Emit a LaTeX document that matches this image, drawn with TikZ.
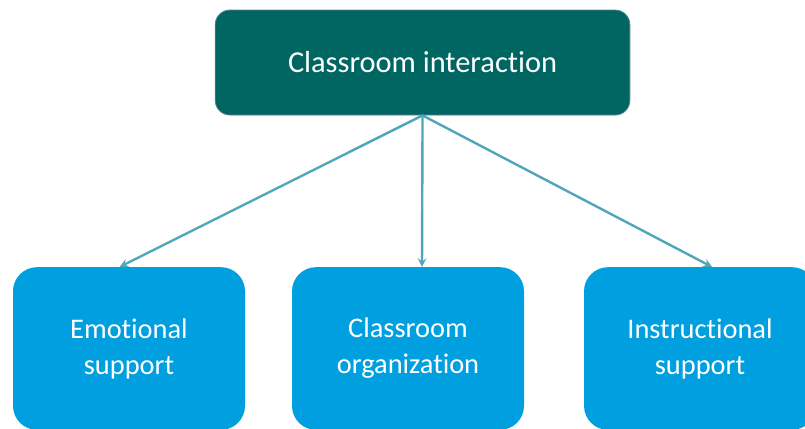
\documentclass[tikz,border=0pt]{standalone}
\usepackage{fontspec}
\setmainfont{Carlito}[Ligatures=NoCommon]
\usepackage{tikz}
\usetikzlibrary{shapes,arrows}
\definecolor{topteal}{HTML}{006661}
\definecolor{topedge}{HTML}{5A7F9A}
\definecolor{subblue}{HTML}{009FDF}
\definecolor{linkblue}{HTML}{4FA6BA}

\begin{document}
\begin{tikzpicture}[x=1pt,y=1pt,
  mainbox/.style={rectangle,rounded corners=11pt,fill=topteal,draw=topedge,line width=0.6pt,
    minimum width=311pt,minimum height=78.75pt,text=white,font=\fontsize{22.8}{26}\selectfont},
  subbox/.style={rectangle,rounded corners=18pt,fill=subblue,minimum width=174pt,
    minimum height=122pt,text=white,align=center,font=\fontsize{21.3}{27}\selectfont},
  link/.style={linkblue,line width=1.8pt,-stealth}]
  \useasboundingbox (0,0) rectangle (603.75,321);
  \node[mainbox] (ci) at (316.9,274.1) {Classroom interaction};
  \node[subbox] (es) at (96.75,59.6) {Emotional\\support};
  \node[subbox] (co) at (306,59.6) {Classroom\\organization};
  \node[subbox] (is) at (525,59.6) {Instructional\\support};
  \draw[link] (ci.south) -- ([xshift=-7pt]es.north);
  \draw[link] (ci.south) -- ([xshift=10.5pt]co.north);
  \draw[link] (ci.south) -- ([xshift=9pt]is.north);
\end{tikzpicture}
\end{document}
